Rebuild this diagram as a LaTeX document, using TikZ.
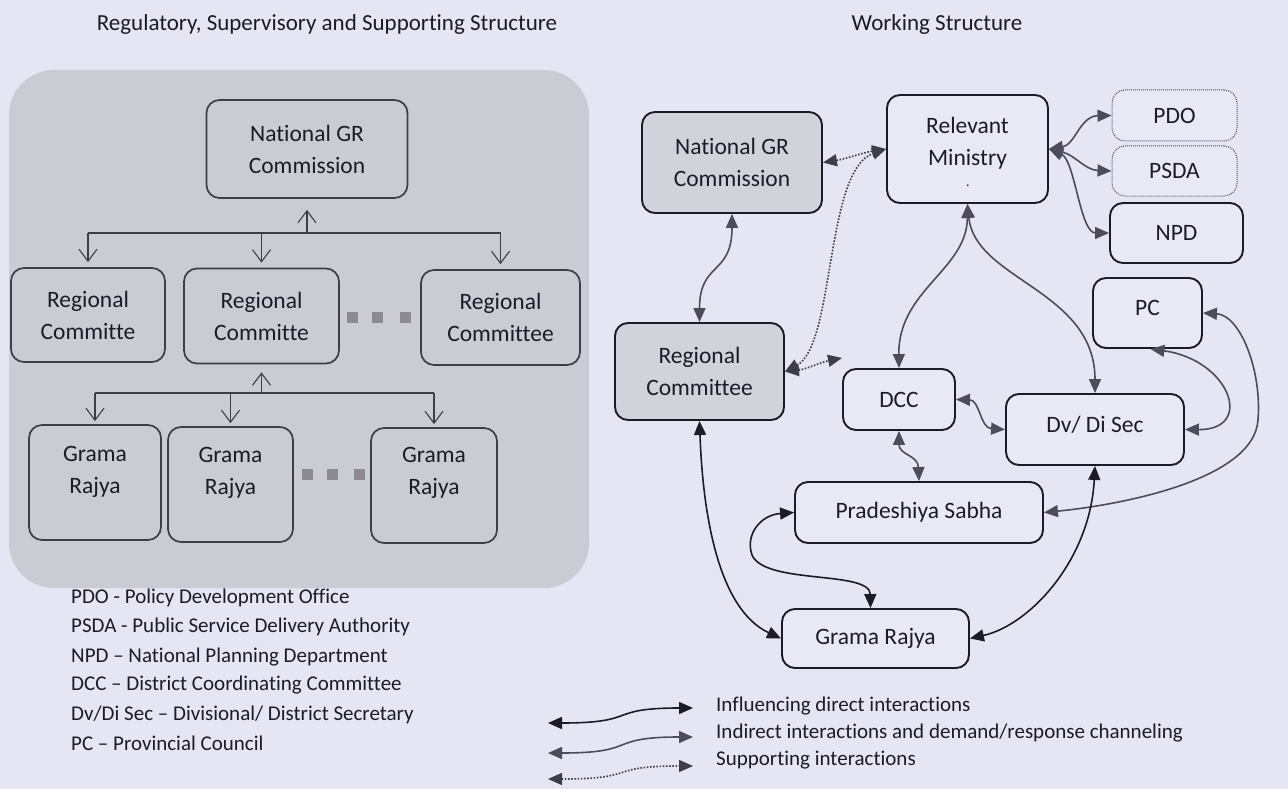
\documentclass[tikz,border=0pt]{standalone}
\usepackage{fontspec}
\setmainfont{Carlito}[Ligatures=NoCommon]
\usetikzlibrary{arrows.meta}
\definecolor{bg}{HTML}{E5E5F3}
\definecolor{panel}{HTML}{CBCBD3}
\definecolor{boxgray}{HTML}{D2D2DB}
\definecolor{boxlight}{HTML}{E9E9F6}
\definecolor{ink}{HTML}{1C1C26}
\definecolor{linkgray}{HTML}{4C4C5C}
\definecolor{sq}{HTML}{8E8A94}
\begin{document}
\begin{tikzpicture}[x=1pt,y=-1pt,
  every node/.style={font=\fontsize{23.5}{32}\selectfont, text=ink, align=center, inner sep=0pt},
  lbox/.style={draw=ink!85, line width=1.7pt, rounded corners=13pt},
  rbox/.style={draw=ink, line width=1.9pt, rounded corners=13pt, fill=boxlight},
  rgray/.style={rbox, fill=boxgray},
  dotbox/.style={rbox, draw=ink!75, line width=1pt, densely dotted},
  tree/.style={draw=ink!85, line width=1.1pt, -{Straight Barb[length=12pt,width=18pt]}},
  direct/.style={draw=ink, line width=1.6pt, {Triangle[length=14pt,width=12pt]}-{Triangle[length=14pt,width=12pt]}},
  indirect/.style={direct, draw=linkgray},
  support/.style={direct, draw=ink!85, line width=1.6pt, dash pattern=on 1.6pt off 1.6pt},
  legtext/.style={anchor=west, font=\fontsize{21}{25}\selectfont},
  sqr/.style={fill=sq, minimum width=11pt, minimum height=11pt}
]
\fill[bg] (0,0) rectangle (1288,789);
\useasboundingbox (0,0) rectangle (1288,789);

% titles
\node[font=\fontsize{23}{27}\selectfont] (t1) at (327,24) {Regulatory, Supervisory and Supporting Structure};
\node[font=\fontsize{23}{27}\selectfont] (t2) at (937,24) {Working Structure};

% left panel
\fill[panel, rounded corners=45pt] (9,70) rectangle (589,588);
\node[lbox, minimum width=201pt, minimum height=98pt] (lNGR) at (307,149) {National GR\\Commission};
\node[lbox, minimum width=154pt, minimum height=94pt] (lR1) at (88,315) {Regional\\Committe};
\node[lbox, minimum width=155pt, minimum height=95pt] (lR2) at (261.5,316) {Regional\\Committe};
\node[lbox, minimum width=159pt, minimum height=95pt] (lR3) at (500.5,317.5) {Regional\\Committee};
\node[lbox, minimum width=132pt, minimum height=115pt] (lG1) at (95,482.5) {};
\node[lbox, minimum width=125pt, minimum height=115pt] (lG2) at (230.5,484.5) {};
\node[lbox, minimum width=126pt, minimum height=115pt] (lG3) at (434,485.5) {};
\node (lG1t) at (95,472) {Grama\\Rajya};
\node (lG2t) at (230.5,473) {Grama\\Rajya};
\node (lG3t) at (434,473) {Grama\\Rajya};
\node[sqr] (s1) at (352,317) {};
\node[sqr] (s2) at (377,317) {};
\node[sqr] (s3) at (405,317) {};
\node[sqr] (s4) at (307,474) {};
\node[sqr] (s5) at (332,474) {};
\node[sqr] (s6) at (359,474) {};

\coordinate (lj1) at (307,233);
\coordinate (lj2) at (261.5,393);
\draw[tree, shorten >=11pt] (lj1) -- (lNGR.south);
\draw[draw=ink!85, line width=1.1pt] (lR1.north |- lj1) -- (lR3.north |- lj1);
\draw[tree, shorten >=5pt] (lR1.north |- lj1) -- (lR1.north);
\draw[tree, shorten >=5pt] (lR2.north |- lj1) -- (lR2.north);
\draw[tree, shorten >=5pt] (lR3.north |- lj1) -- (lR3.north);
\draw[tree, shorten >=8pt] (lj2) -- (lR2.south);
\draw[draw=ink!85, line width=1.1pt] (lG1.north |- lj2) -- (lG3.north |- lj2);
\draw[tree, shorten >=3pt] (lG1.north |- lj2) -- (lG1.north);
\draw[tree, shorten >=3pt] (lG2.north |- lj2) -- (lG2.north);
\draw[tree, shorten >=3pt] (lG3.north |- lj2) -- (lG3.north);

% abbreviations
\node[legtext] (a1) at (71,598) {PDO - Policy Development Office};
\node[legtext] (a2) at (71,627) {PSDA - Public Service Delivery Authority};
\node[legtext] (a3) at (71,657) {NPD – National Planning Department};
\node[legtext] (a4) at (71,685) {DCC – District Coordinating Committee};
\node[legtext] (a5) at (71,715) {Dv/Di Sec – Divisional/ District Secretary};
\node[legtext] (a6) at (71,743) {PC – Provincial Council};

% right structure
\node[rgray, minimum width=180pt, minimum height=101pt] (rNGR) at (732,162.5) {National GR\\Commission};
\node[rbox, minimum width=161pt, minimum height=108pt] (rRM) at (967.5,149) {};
\node (rRMt) at (967.5,143) {Relevant\\Ministry};
\node[font=\fontsize{14}{16}\selectfont] (rRMdot) at (968,186) {.};
\node[dotbox, minimum width=125pt, minimum height=51pt] (rPDO) at (1174.5,115.5) {PDO};
\node[dotbox, minimum width=125pt, minimum height=50pt] (rPSDA) at (1174.5,171) {PSDA};
\node[rbox, minimum width=133pt, minimum height=60pt] (rNPD) at (1176.5,233) {NPD};
\node[rbox, minimum width=109pt, minimum height=70pt] (rPC) at (1147.5,313) {};
\node (rPCt) at (1147.5,308) {PC};
\node[rgray, minimum width=169pt, minimum height=97pt] (rRC) at (699.5,371.5) {Regional\\Committee};
\node[rbox, minimum width=112pt, minimum height=61pt] (rDCC) at (899,399.5) {DCC};
\node[rbox, minimum width=178pt, minimum height=71pt] (rDV) at (1095,429.5) {};
\node (rDVt) at (1095,425) {Dv/ Di Sec};
\node[rbox, minimum width=248pt, minimum height=61pt] (rPS) at (919,512.5) {Pradeshiya Sabha};
\node[rbox, minimum width=187pt, minimum height=59pt] (rGR) at (875.5,638.5) {Grama Rajya};
\coordinate (rcend) at (842,358);

% connectors
\draw[support] (rNGR.east) .. controls +(25,-4) and +(-25,4) .. (rRM.west);
\draw[support] (rRC.east) .. controls (835,345) and (825,170) .. (rRM.west);
\draw[support] (rRC.east) .. controls +(20,-2) and +(-20,4) .. (rcend);
\draw[indirect] (rNGR.south) .. controls +(0,62) and +(0,-61) .. (rRC.north);
\draw[indirect] (rRM.south) .. controls (967,270) and (898,290) .. (rDCC.north);
\draw[indirect] (rRM.south) .. controls (975,280) and (1095,290) .. (rDV.north);
\draw[indirect] (rRM.east) .. controls (1075,145) and (1080,116) .. (rPDO.west);
\draw[indirect] (rRM.east) .. controls (1075,155) and (1085,170) .. (rPSDA.west);
\draw[indirect] (rRM.east) .. controls (1075,160) and (1080,233) .. (rNPD.west);
\draw[indirect] ([xshift=3pt]rPC.south) .. controls (1230,360) and (1255,430) .. (rDV.east);
\draw[indirect] (rPC.east) .. controls (1240,315) and (1262,370) .. (1258,420) .. controls (1254,480) and (1120,505) .. (rPS.east);
\draw[indirect] (rDCC.east) .. controls (980,400) and (980,428) .. (rDV.west);
\draw[indirect] (rDCC.south) .. controls (899,455) and (918,455) .. (rPS.north);
\draw[direct] (rRC.south) .. controls (703,520) and (720,610) .. (rGR.west);
\draw[direct] (rPS.west) .. controls (760,515) and (745,535) .. (752,555) .. controls (765,585) and (870,570) .. ([xshift=-5pt]rGR.north);
\draw[direct] (rDV.south) .. controls (1090,560) and (1030,625) .. (rGR.east);

% legend
\coordinate (g1a) at (548,723); \coordinate (g1b) at (693,708);
\coordinate (g2a) at (548,753); \coordinate (g2b) at (693,737);
\coordinate (g3a) at (548,779); \coordinate (g3b) at (693,766);
\draw[direct] (g1a) .. controls (640,723) and (605,708) .. (g1b);
\draw[indirect] (g2a) .. controls (640,753) and (605,737) .. (g2b);
\draw[support] (g3a) .. controls (640,779) and (605,766) .. (g3b);
\node[legtext] (k1) at (716,706) {Influencing direct interactions};
\node[legtext] (k2) at (716,733) {Indirect interactions and demand/response channeling};
\node[legtext] (k3) at (716,760) {Supporting interactions};
\end{tikzpicture}
\end{document}
